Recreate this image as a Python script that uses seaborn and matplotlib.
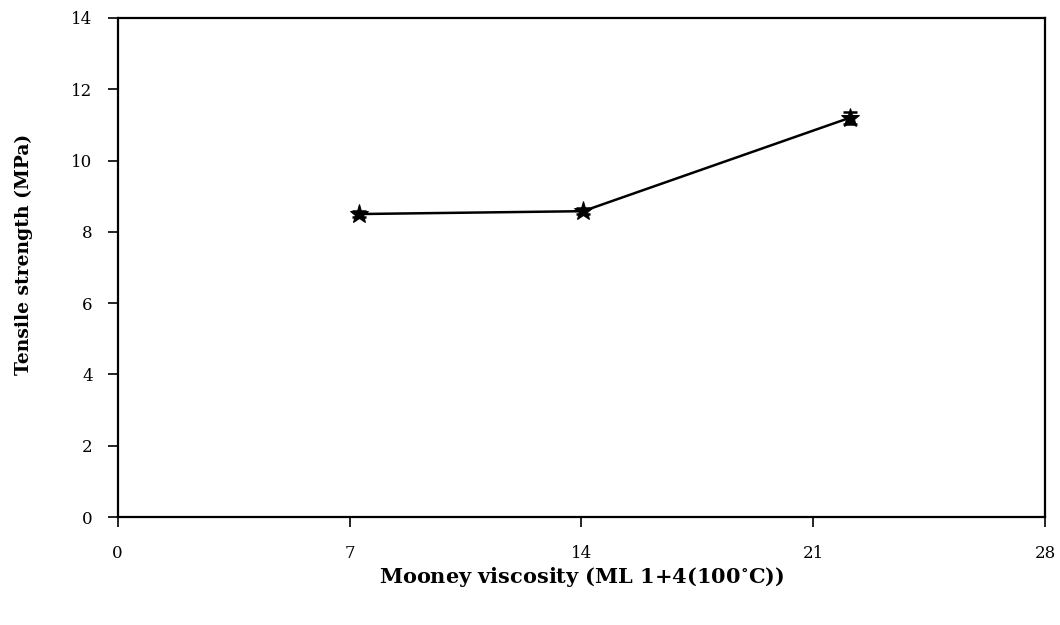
import matplotlib
matplotlib.use("Agg")
import matplotlib.pyplot as plt
import seaborn as sns
import pandas as pd

# Tensile strength versus Mooney viscosity
mooney = [7.3, 14.05, 22.1]
tensile = [8.5, 8.58, 11.2]
tensile_sd = [0.08, 0.08, 0.17]

x_ticks = [0, 7, 14, 21, 28]
y_ticks = [0, 2, 4, 6, 8, 10, 12, 14]

sns.set_theme(style="white")
plt.rcParams["font.family"] = ["DejaVu Serif"]
plt.rcParams["mathtext.fontset"] = "dejavuserif"
plt.rcParams["text.color"] = "black"
plt.rcParams["axes.labelcolor"] = "black"

df = pd.DataFrame({"mooney": mooney, "tensile": tensile, "sd": tensile_sd})

fig = plt.figure(figsize=(10.6, 6.25), dpi=100)
ax = fig.add_axes([0.111, 0.1728, 0.875, 0.7984])

ax.errorbar(df["mooney"], df["tensile"], yerr=df["sd"], fmt="none",
            ecolor="black", elinewidth=1.5, capsize=5, capthick=1.8, zorder=2)
sns.lineplot(data=df, x="mooney", y="tensile", ax=ax, color="black",
             linewidth=1.8, marker="*", markersize=14, markeredgecolor="black",
             markerfacecolor="black", zorder=3)

ax.set_xlim(0, 28)
ax.set_ylim(0, 14)
ax.set_xticks(x_ticks)
ax.set_yticks(y_ticks)
ax.set_xticklabels([str(t) for t in x_ticks], fontsize=12)
ax.set_yticklabels([str(t) for t in y_ticks], fontsize=12)
ax.tick_params(axis="x", direction="out", length=7, width=1.2, pad=13, colors="black")
ax.tick_params(axis="y", direction="out", length=7, width=1.2, pad=11, colors="black")
ax.tick_params(bottom=True, left=True)

for s in ax.spines.values():
    s.set_visible(True)
    s.set_color("black")
    s.set_linewidth(1.6)

ax.set_xlabel(r"Mooney viscosity (ML 1+4(100$^{\mathbf{\circ}}$C))",
              fontsize=15, fontweight="bold", labelpad=2)
ax.set_ylabel("Tensile strength (MPa)", fontsize=13.5, fontweight="bold")
ax.yaxis.set_label_coords(-0.0917, 0.527)
ax.grid(False)

fig.savefig("out.png", dpi=100, facecolor="white")
